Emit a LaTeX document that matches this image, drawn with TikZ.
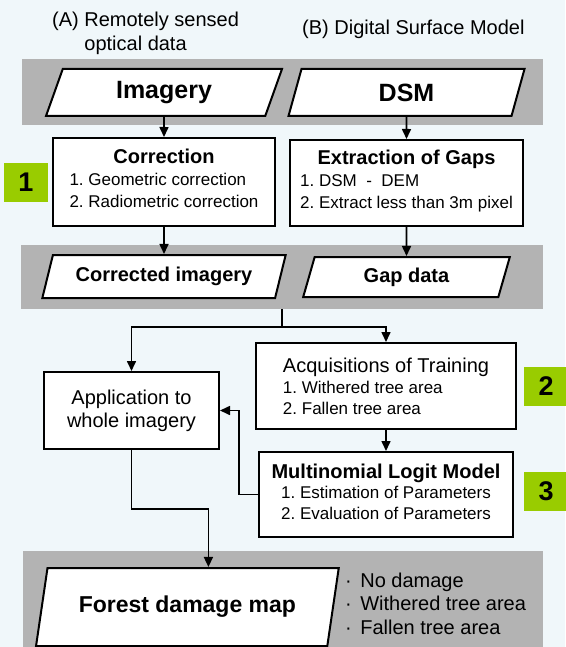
\documentclass[tikz,border=0pt]{standalone}
\usepackage{fontspec}
\setmainfont{Liberation Sans}
\usetikzlibrary{positioning, calc, shapes.geometric, arrows.meta}
\definecolor{bgblue}{HTML}{F0F7FA}
\definecolor{bandgray}{HTML}{B3B3B3}
\definecolor{stepgreen}{HTML}{99CC00}
\frenchspacing

\begin{document}
\begin{tikzpicture}[
    x=1pt, y=-1pt,
    every node/.style={inner sep=0pt, font=\fontsize{17}{22}\selectfont},
    band/.style={fill=bandgray, draw=none},
    data/.style={trapezium, trapezium stretches body, draw, fill=white, line width=2pt,
      trapezium left angle=#1, trapezium right angle={180-#1},
      font=\bfseries\fontsize{20}{24}\selectfont},
    procbox/.style={draw, fill=white, line width=2pt, align=center},
    badge/.style={fill=stepgreen, minimum width=44pt, minimum height=39pt,
      font=\bfseries\fontsize{27}{27}\selectfont},
    label/.style={font=\fontsize{20}{24}\selectfont},
    flow/.style={line width=1.6pt, -{Triangle[length=10pt, width=9pt]}}
  ]
  \useasboundingbox (0,0) rectangle (565,647);
  \fill[bgblue] (0,0) rectangle (565,647);

  % grey bands
  \node[band, minimum width=521pt, minimum height=66pt] (inband) at (282.8,92.5) {};
  \node[band, minimum width=522pt, minimum height=64pt] (midband) at (281.8,277) {};
  \node[band, minimum width=520pt, minimum height=96pt] (outband) at (282.5,599) {};

  % sources
  \node[label, anchor=base west] (srcA) at (52,27)
    {(A) \begin{tabular}[t]{@{}l@{}}Remotely sensed\\optical data\end{tabular}};
  \node[label, anchor=base west] (srcB) at (302,35) {(B) Digital Surface Model};

  % input data
  \node[data=53.3, minimum width=236pt, minimum height=47pt,
    font=\bfseries\fontsize{25}{30}\selectfont] (imagery) at (164,92.5) {Imagery};
  \node[data=53.7, minimum width=236pt, minimum height=47pt,
    font=\bfseries\fontsize{25}{30}\selectfont] (dsm) at (406.5,92.5) {DSM};

  % step 1
  \node[procbox, minimum width=222pt, minimum height=88pt] (corr) at (164,182)
    {{\bfseries\fontsize{20}{24}\selectfont Correction}\\
     \begin{tabular}[t]{@{}l@{}}1. Geometric correction\\2. Radiometric correction\end{tabular}};
  \node[procbox, minimum width=232.5pt, minimum height=86pt] (gaps) at (406.5,183)
    {{\bfseries\fontsize{20}{24}\selectfont Extraction of Gaps}\\
     \begin{tabular}[t]{@{}l@{}}1. DSM\ \ -\ \ DEM\\2. Extract less than 3m pixel\end{tabular}};
  \node[data=60.6, minimum width=243.3pt, minimum height=43pt] (corrimg) at (164,276.5) {Corrected imagery};
  \node[data=58.4, minimum width=206.6pt, minimum height=40pt] (gapdata) at (406.5,277) {Gap data};

  % steps 2 and 3
  \node[procbox, align=left, minimum width=260pt, minimum height=86pt,
    font=\fontsize{17}{21}\selectfont] (acq) at (386,386)
    {{\fontsize{20}{24}\selectfont Acquisitions of Training}\\
     1. Withered tree area\\2. Fallen tree area};
  \node[procbox, minimum width=175pt, minimum height=77pt,
    font=\fontsize{20}{23}\selectfont] (appl) at (131.5,410.5) {Application to\\whole imagery};
  \node[procbox, minimum width=254pt, minimum height=85pt,
    font=\fontsize{17}{20.5}\selectfont] (mlm) at (386,494.5)
    {{\bfseries\fontsize{20}{24}\selectfont Multinomial Logit Model}\\
     \begin{tabular}[t]{@{}l@{}}1. Estimation of Parameters\\2. Evaluation of Parameters\end{tabular}};

  % output
  \node[data=62, minimum width=302.7pt, minimum height=78pt,
    font=\bfseries\fontsize{23}{28}\selectfont] (forest) at (187.4,607) {Forest damage map};
  \node[label, anchor=base west, font=\fontsize{20}{23.5}\selectfont] (classes) at (345,587)
    {\begin{tabular}[t]{@{}l@{}}·\hspace{8.5pt}No damage\\·\hspace{8.5pt}Withered tree area\\·\hspace{8.5pt}Fallen tree area\end{tabular}};

  % step numbers
  \node[badge] (stepA) at (26,182.5) {1};
  \node[badge] (stepB) at (546,386.5) {2};
  \node[badge] (stepC) at (546,491.5) {3};

  % connectors
  \draw[flow] (imagery.south) -- (corr.north);
  \draw[flow] (dsm.south) -- (gaps.north);
  \draw[flow] (corr.south) -- (corrimg.north);
  \draw[flow] (gaps.south) -- (gapdata.north);
  \draw[line width=1.6pt] (midband.south) -- ++(0,18) coordinate (split);
  \draw[flow] (split) -| (appl.north);
  \draw[flow] (split) -| (acq.north);
  \draw[flow] (acq.south) -- (mlm.north);
  \draw[flow] (mlm.west) -- ++(-19,0) |- (appl.east);
  \draw[flow] (appl.south) -- ++(0,59) -| ([xshift=21pt]forest.north);
\end{tikzpicture}
\end{document}
